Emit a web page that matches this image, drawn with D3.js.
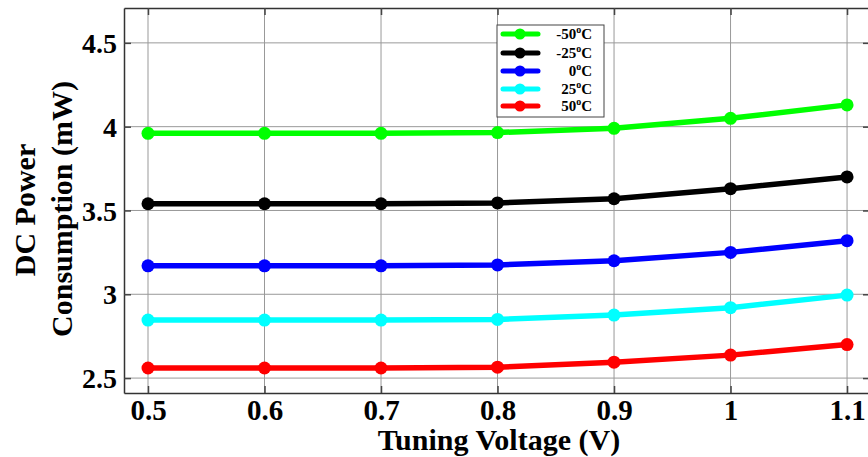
<!DOCTYPE html>
<html><head><meta charset="utf-8">
<script src="https://cdn.jsdelivr.net/npm/d3@7"></script>
<style>body{margin:0;background:#fff}svg{display:block}</style>
</head><body><svg id="c" width="868" height="457"></svg>
<script>
const voltages = [0.5, 0.6, 0.7, 0.8, 0.9, 1.0, 1.1];
const xTicks = [0.5, 0.6, 0.7, 0.8, 0.9, 1.0, 1.1];
const yTicks = [2.5, 3, 3.5, 4, 4.5];
const seriesNames = ["-50", "-25", "0", "25", "50"];
const seriesColors = ["#00ff00", "#000000", "#0000ff", "#00ffff", "#ff0000"];
const pM50 = [3.96, 3.96, 3.96, 3.965, 3.99, 4.05, 4.13];
const pM25 = [3.54, 3.54, 3.54, 3.545, 3.57, 3.63, 3.70];
const p0   = [3.17, 3.17, 3.17, 3.175, 3.20, 3.25, 3.32];
const p25  = [2.846, 2.846, 2.846, 2.85, 2.876, 2.92, 2.995];
const p50  = [2.56, 2.56, 2.56, 2.565, 2.595, 2.637, 2.70];
const allSeries = [pM50, pM25, p0, p25, p50];

const svg = d3.select("#c");
const L = 124, R = 870, T = 8, B = 393;
const x = d3.scaleLinear().domain([0.4794, 1.1197]).range([L, R]);
const y = d3.scaleLinear().domain([2.411, 4.708]).range([B, T]);
const FONT = "'Liberation Serif','Times New Roman',serif";

// grid
const g = svg.append("g");
g.selectAll(".gx").data(xTicks).join("line")
  .attr("x1", d => x(d)).attr("x2", d => x(d)).attr("y1", T).attr("y2", B)
  .attr("stroke", "#999").attr("stroke-width", 1);
g.selectAll(".gy").data(yTicks).join("line")
  .attr("x1", L).attr("x2", R).attr("y1", d => y(d)).attr("y2", d => y(d))
  .attr("stroke", "#999").attr("stroke-width", 1);

// axes
const xa = svg.append("g").attr("transform", `translate(0,${B})`)
  .call(d3.axisBottom(x).tickValues(xTicks).tickFormat(d => d3.format("~g")(d)).tickSizeInner(-7).tickSizeOuter(0).tickPadding(6));
const ya = svg.append("g").attr("transform", `translate(${L},0)`)
  .call(d3.axisLeft(y).tickValues(yTicks).tickFormat(d => d3.format("~g")(d)).tickSizeInner(-7).tickSizeOuter(0).tickPadding(7));
const yr = svg.append("g").attr("transform", `translate(${R},0)`)
  .call(d3.axisRight(y).tickValues(yTicks).tickFormat("").tickSizeInner(-7).tickSizeOuter(0));
const xt = svg.append("g").attr("transform", `translate(0,${T})`)
  .call(d3.axisTop(x).tickValues(xTicks).tickFormat("").tickSizeInner(-7).tickSizeOuter(0));
[xa, ya, yr, xt].forEach(a => {
  a.select(".domain").attr("stroke", "#333").attr("stroke-width", 1.5);
  a.selectAll(".tick line").attr("stroke", "#444").attr("stroke-width", 1.5);
});
xa.selectAll("text").attr("font-family", FONT).attr("font-weight", "bold").attr("font-size", 29).attr("fill", "#000");
ya.selectAll("text").attr("font-family", FONT).attr("font-weight", "bold").attr("font-size", 28).attr("fill", "#000")
  .attr("dy", "0.34em");

// lines
const line = d3.line().x((d, i) => x(voltages[i])).y(d => y(d));
allSeries.forEach((s, k) => {
  svg.append("path").datum(s).attr("d", line).attr("fill", "none")
    .attr("stroke", seriesColors[k]).attr("stroke-width", 5.5).attr("stroke-linejoin", "round");
  svg.append("g").selectAll("circle").data(s).join("circle")
    .attr("cx", (d, i) => x(voltages[i])).attr("cy", d => y(d)).attr("r", 6.5)
    .attr("fill", seriesColors[k]);
});

// axis titles
svg.append("text").attr("transform", `translate(499,450)`).attr("text-anchor", "middle")
  .attr("font-family", FONT).attr("font-weight", "bold").attr("font-size", 30).text("Tuning Voltage (V)");
svg.append("text").attr("transform", `translate(35,210) rotate(-90)`).attr("text-anchor", "middle")
  .attr("font-family", FONT).attr("font-weight", "bold").attr("font-size", 30).text("DC Power");
svg.append("text").attr("transform", `translate(72,209) rotate(-90)`).attr("text-anchor", "middle")
  .attr("font-family", FONT).attr("font-weight", "bold").attr("font-size", 30).text("Consumption (mW)");

// legend
const lg = svg.append("g");
lg.append("rect").attr("x", 497).attr("y", 25).attr("width", 107).attr("height", 92)
  .attr("fill", "#fff").attr("stroke", "#444").attr("stroke-width", 1);
const legY = [34, 53, 71, 89, 106];
seriesNames.forEach((n, k) => {
  lg.append("line").attr("x1", 503).attr("x2", 538).attr("y1", legY[k]).attr("y2", legY[k])
    .attr("stroke", seriesColors[k]).attr("stroke-width", 5).attr("stroke-linecap", "round");
  lg.append("circle").attr("cx", 520).attr("cy", legY[k]).attr("r", 5.5).attr("fill", seriesColors[k]);
  const t = lg.append("text").attr("x", 592).attr("y", legY[k] + 5).attr("text-anchor", "end")
    .attr("font-family", FONT).attr("font-weight", "bold").attr("font-size", 15);
  t.append("tspan").text(n);
  t.append("tspan").attr("dy", -6).attr("font-size", 10).text("o");
  t.append("tspan").attr("dy", 6).text("C");
});
</script></body></html>
